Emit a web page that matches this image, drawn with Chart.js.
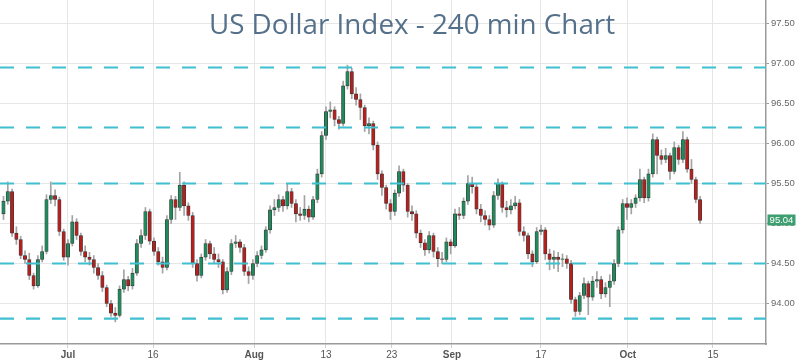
<!DOCTYPE html>
<html><head><meta charset="utf-8">
<script src="https://cdn.jsdelivr.net/npm/chart.js@4.4.1/dist/chart.umd.min.js"></script>
<style>
html,body{margin:0;padding:0;background:#fff;}
#wrap{position:relative;width:800px;height:361px;overflow:hidden;}
#title{position:absolute;left:412px;top:4px;transform:translateX(-50%);font-family:'Open Sans',sans-serif;font-size:27.8px;color:#55708a;white-space:nowrap;pointer-events:none;}
</style></head><body>
<div id="wrap"><canvas id="c" width="800" height="361"></canvas><div id="title">US Dollar Index - 240 min Chart</div></div>
<script>
const closes = [
95.28,95.40,94.88,94.80,94.60,94.55,94.35,94.22,94.55,94.65,
95.30,95.35,95.30,94.90,94.58,94.75,95.02,94.85,94.65,94.58,
94.55,94.45,94.35,94.20,94.00,93.88,93.85,94.18,94.30,94.22,
94.38,94.75,94.85,95.15,94.78,94.65,94.52,94.45,95.05,95.30,
95.20,95.48,95.22,95.10,94.50,94.35,94.58,94.75,94.62,94.55,
94.52,94.17,94.40,94.75,94.77,94.70,94.40,94.35,94.50,94.60,
94.67,94.92,95.17,95.20,95.30,95.22,95.40,95.25,95.12,95.10,
95.18,95.08,95.30,95.62,96.10,96.40,96.42,96.30,96.25,96.72,
96.90,96.62,96.55,96.45,96.22,96.25,95.98,95.62,95.45,95.25,
95.15,95.38,95.65,95.48,95.15,95.12,94.88,94.76,94.67,94.85,
94.65,94.56,94.55,94.77,94.72,95.12,95.10,95.28,95.50,95.46,
95.18,95.10,95.05,94.98,95.35,95.50,95.20,95.17,95.22,95.26,
94.90,94.85,94.62,94.52,94.90,94.92,94.62,94.55,94.58,94.55,
94.56,94.50,94.05,93.90,94.10,94.25,94.08,94.28,94.30,94.12,
94.20,94.28,94.50,94.92,95.25,95.20,95.25,95.32,95.55,95.32,
95.62,96.05,95.85,95.80,95.85,95.65,95.95,95.80,96.05,95.68,
95.55,95.30,95.04];
const opens = [
95.12,95.28,95.40,94.88,94.80,94.60,94.55,94.35,94.22,94.55,
94.65,95.30,95.35,95.30,94.90,94.58,94.75,95.02,94.85,94.65,
94.58,94.55,94.45,94.35,94.20,94.00,93.88,93.85,94.18,94.30,
94.22,94.38,94.75,94.85,95.15,94.78,94.65,94.52,94.45,95.05,
95.30,95.20,95.48,95.22,95.10,94.50,94.35,94.58,94.75,94.62,
94.55,94.52,94.17,94.40,94.75,94.77,94.70,94.40,94.35,94.50,
94.60,94.67,94.92,95.17,95.20,95.30,95.22,95.40,95.25,95.12,
95.10,95.18,95.08,95.30,95.62,96.10,96.40,96.42,96.30,96.25,
96.72,96.90,96.62,96.55,96.45,96.22,96.25,95.98,95.62,95.45,
95.25,95.15,95.38,95.65,95.48,95.15,95.12,94.88,94.76,94.67,
94.85,94.65,94.56,94.55,94.77,94.72,95.12,95.10,95.28,95.50,
95.46,95.18,95.10,95.05,94.98,95.35,95.50,95.20,95.17,95.22,
95.26,94.90,94.85,94.62,94.52,94.90,94.92,94.62,94.55,94.58,
94.55,94.56,94.50,94.05,93.90,94.10,94.25,94.08,94.28,94.30,
94.12,94.20,94.28,94.50,94.92,95.25,95.20,95.25,95.32,95.55,
95.32,95.62,96.05,95.85,95.80,95.85,95.65,95.95,95.80,96.05,
95.68,95.55,95.30];
const highs = [
95.34,95.52,95.43,94.96,94.84,94.66,94.63,94.38,94.60,94.72,
95.36,95.52,95.42,95.33,94.93,94.80,95.10,95.06,94.88,94.72,
94.64,94.60,94.50,94.40,94.23,94.04,93.95,94.22,94.42,94.34,
94.44,94.80,94.92,95.20,95.18,94.82,94.70,94.58,95.10,95.35,
95.34,95.64,95.52,95.26,95.14,94.55,94.62,94.80,94.78,94.70,
94.62,94.55,94.45,94.80,94.85,94.80,94.74,94.46,94.55,94.65,
94.72,94.96,95.22,95.30,95.36,95.34,95.50,95.44,95.30,95.20,
95.35,95.22,95.34,95.68,96.15,96.46,96.52,96.46,96.34,96.78,
96.98,96.94,96.70,96.62,96.48,96.32,96.28,96.02,95.66,95.48,
95.30,95.42,95.72,95.68,95.50,95.22,95.16,94.92,94.80,94.90,
94.88,94.70,94.64,94.82,94.80,95.18,95.20,95.32,95.60,95.58,
95.50,95.24,95.16,95.10,95.40,95.56,95.52,95.28,95.30,95.34,
95.30,94.96,94.88,94.66,94.95,94.98,94.95,94.68,94.66,94.64,
94.62,94.60,94.54,94.08,94.14,94.32,94.28,94.34,94.40,94.34,
94.26,94.36,94.55,94.96,95.30,95.32,95.30,95.36,95.68,95.58,
95.68,96.12,96.08,95.92,95.94,95.88,96.02,95.98,96.15,96.08,
95.80,95.58,95.34];
const lows = [
95.05,95.24,94.84,94.74,94.56,94.50,94.30,94.18,94.20,94.52,
94.62,95.25,95.22,94.85,94.54,94.48,94.72,94.80,94.60,94.52,
94.48,94.38,94.30,94.15,93.96,93.84,93.77,93.83,94.14,94.16,
94.18,94.35,94.70,94.80,94.74,94.60,94.48,94.38,94.42,95.00,
95.05,95.16,95.10,95.04,94.45,94.28,94.32,94.54,94.56,94.50,
94.45,94.12,94.14,94.36,94.70,94.64,94.35,94.25,94.30,94.46,
94.56,94.64,94.88,95.10,95.15,95.15,95.18,95.20,95.02,95.04,
95.05,95.02,95.05,95.26,95.58,96.05,96.32,96.22,96.18,96.22,
96.68,96.56,96.48,96.30,96.15,96.12,95.92,95.55,95.35,95.18,
95.05,95.10,95.34,95.40,95.08,95.04,94.82,94.70,94.60,94.63,
94.58,94.46,94.50,94.52,94.62,94.70,95.05,95.06,95.24,95.38,
95.12,95.02,94.98,94.92,94.95,95.30,95.14,95.08,95.12,95.18,
94.85,94.78,94.56,94.46,94.50,94.86,94.55,94.42,94.44,94.40,
94.46,94.44,94.00,93.84,93.86,94.06,93.86,94.04,94.20,94.06,
94.08,93.96,94.24,94.46,94.88,95.05,95.12,95.20,95.28,95.26,
95.28,95.58,95.62,95.74,95.76,95.55,95.62,95.74,95.76,95.64,
95.50,95.26,95.00];
const xTickPos = [15, 34.8, 58.3, 75, 90.3, 104.3, 125, 145.2, 165];
const xTickLabels = ['Jul','16','Aug','13','23','Sep','17','Oct','15'];
const monthLabels = ['Jul','Aug','Sep','Oct'];
const yTicks = [94.00, 94.50, 95.00, 95.50, 96.00, 96.50, 97.00, 97.50];
const levels = [96.95, 96.20, 95.50, 94.50, 93.81];
const X_MIN = -0.81, X_MAX = 177.33, Y_MIN = 93.494, Y_MAX = 97.794;

const UP = '#1f8a5b', DOWN = '#b3201e';
const idx = closes.map((_, i) => i);
const wickData = idx.map(i => ({x: i, y: [lows[i], highs[i]]}));
const bodyData = idx.map(i => ({x: i, y: [opens[i], closes[i]]}));
const bodyColors = idx.map(i => closes[i] >= opens[i] ? UP : DOWN);

const levelSets = levels.map(lv => ({
  type: 'line', data: [{x: X_MIN, y: lv}, {x: X_MAX, y: lv}],
  borderColor: '#3fbfd0', borderWidth: 2.2, borderDash: [14, 12],
  pointRadius: 0, order: 0, fill: false
}));

const priceTag = {
  id: 'priceTag',
  afterDraw(chart) {
    const last = closes[closes.length - 1];
    const y = chart.scales.y.getPixelForValue(last);
    const ctx = chart.ctx;
    const left = chart.chartArea.right + 1.5;
    ctx.save();
    ctx.fillStyle = '#3d9f6f';
    ctx.fillRect(left, Math.round(y) - 5.5, 28, 11);
    ctx.fillStyle = '#ffffff';
    ctx.font = '9.5px "Liberation Sans", Arial, sans-serif';
    ctx.textAlign = 'center';
    ctx.textBaseline = 'middle';
    ctx.fillText(last.toFixed(2), left + 14, Math.round(y) + 0.5);
    ctx.restore();
  }
};

new Chart(document.getElementById('c'), {
  type: 'bar',
  data: {
    datasets: [
      ...levelSets,
      { type: 'bar', data: bodyData, backgroundColor: bodyColors, borderColor: 'rgba(25,25,25,0.85)',
        borderWidth: 0.7, borderSkipped: false, barThickness: 3.4, grouped: false, order: 1 },
      { type: 'bar', data: wickData, backgroundColor: '#a3a3a3', borderWidth: 0,
        barThickness: 1, grouped: false, order: 2 }
    ]
  },
  options: {
    responsive: false, animation: false, events: [],
    layout: { padding: 0 },
    plugins: { legend: { display: false }, tooltip: { enabled: false }, title: { display: false } },
    scales: {
      x: {
        type: 'linear', min: X_MIN, max: X_MAX, offset: false,
        grid: { color: '#e6e6e6', offset: false, tickLength: 4, tickColor: '#d0d0d0' },
        border: { color: '#9a9a9a', width: 1.5 },
        ticks: {
          autoSkip: false, maxRotation: 0, padding: 1, color: '#555',
          font: ctx => ({ family: '"Liberation Sans", Arial, sans-serif', size: 10,
                          weight: monthLabels.includes(xTickLabels[ctx.index]) ? 'bold' : 'normal' }),
          callback: (v, i) => xTickLabels[i]
        },
        afterBuildTicks: s => { s.ticks = xTickPos.map(v => ({ value: v })); },
        afterFit: s => { s.height = 17; s.paddingLeft = 0; s.paddingRight = 0; }
      },
      y: {
        type: 'linear', position: 'right', min: Y_MIN, max: Y_MAX,
        grid: { color: '#e6e6e6', tickLength: 3, tickColor: '#999' },
        border: { color: '#9a9a9a', width: 1.5 },
        ticks: {
          color: '#666', padding: 2, font: { family: '"Liberation Sans", Arial, sans-serif', size: 9.5 },
          callback: v => Number(v).toFixed(2)
        },
        afterBuildTicks: s => { s.ticks = yTicks.map(v => ({ value: v })); },
        afterFit: s => { s.width = 34; s.paddingTop = 0; s.paddingBottom = 0; }
      }
    }
  },
  plugins: [priceTag]
});
</script>
</body></html>
